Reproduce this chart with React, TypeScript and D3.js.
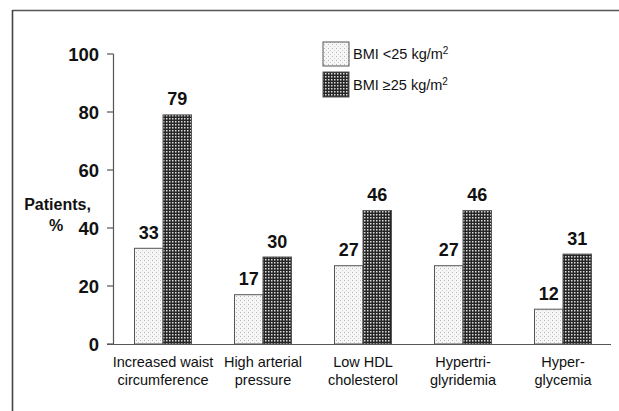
import React from "react";
import * as d3 from "d3";

const categories: string[][] = [
  ["Increased waist", "circumference"],
  ["High arterial", "pressure"],
  ["Low HDL", "cholesterol"],
  ["Hypertri-", "glyridemia"],
  ["Hyper-", "glycemia"],
];
const bmiUnder25: number[] = [33, 17, 27, 27, 12];
const bmiOver25: number[] = [79, 30, 46, 46, 31];
const yTicks: number[] = [0, 20, 40, 60, 80, 100];

const W = 619;
const H = 411;
const FONT = "Arial, 'Liberation Sans', Helvetica, sans-serif";

export default function App() {
  const x = d3
    .scaleBand<number>()
    .domain(categories.map((_, i) => i))
    .range([113, 613])
    .paddingInner(0)
    .paddingOuter(0);
  const y = d3.scaleLinear().domain([0, 100]).range([344, 54]);
  const barW = 28.5;

  return (
    <svg
      width={W}
      height={H}
      style={{ position: "absolute", left: 0, top: 0, background: "#fff" }}
      fontFamily={FONT}
    >
      <defs>
        <pattern id="light" width="4" height="4" patternUnits="userSpaceOnUse">
          <rect width="4" height="4" fill="#f6f6f6" />
          <rect x="0" y="0" width="1" height="1" fill="#b8b8b8" />
          <rect x="2" y="2" width="1" height="1" fill="#d0d0d0" />
        </pattern>
        <pattern id="dark" width="3" height="3" patternUnits="userSpaceOnUse">
          <rect width="3" height="3" fill="#262626" />
          <rect x="1" y="1" width="1.5" height="1.5" fill="#dddddd" />
        </pattern>
      </defs>

      {/* frame */}
      <line x1={12.5} y1={10.5} x2={W} y2={10.5} stroke="#555" strokeWidth={1.6} />
      <line x1={12.5} y1={10} x2={12.5} y2={H} stroke="#444" strokeWidth={1.6} />

      {/* bars */}
      {categories.map((_, i) => {
        const cx = (x(i) as number) + x.bandwidth() / 2;
        const v1 = bmiUnder25[i];
        const v2 = bmiOver25[i];
        return (
          <g key={i}>
            <rect
              x={cx - barW}
              y={y(v1)}
              width={barW}
              height={y(0) - y(v1)}
              fill="url(#light)"
              stroke="#555"
              strokeWidth={1}
            />
            <rect
              x={cx}
              y={y(v2)}
              width={barW}
              height={y(0) - y(v2)}
              fill="url(#dark)"
              stroke="#555"
              strokeWidth={1}
            />
            <text
              x={cx - barW / 2}
              y={y(v1) - 9.5}
              textAnchor="middle"
              fontWeight="bold"
              fontSize={18}
              fill="#111"
            >
              {v1}
            </text>
            <text
              x={cx + barW / 2}
              y={y(v2) - 9.5}
              textAnchor="middle"
              fontWeight="bold"
              fontSize={18}
              fill="#111"
            >
              {v2}
            </text>
            {categories[i].map((line, j) => (
              <text
                key={j}
                x={cx}
                y={367 + j * 18}
                textAnchor="middle"
                fontSize={14.5}
                fill="#111"
              >
                {line}
              </text>
            ))}
          </g>
        );
      })}

      {/* y axis */}
      <line x1={113.5} y1={y(100)} x2={113.5} y2={y(0)} stroke="#555" strokeWidth={1.2} />
      {yTicks.map((t) => (
        <g key={t}>
          <line x1={107} y1={y(t)} x2={113.5} y2={y(t)} stroke="#555" strokeWidth={1.2} />
          <text
            x={99}
            y={y(t) + 6.5}
            textAnchor="end"
            fontWeight="bold"
            fontSize={18.5}
            fill="#111"
          >
            {t}
          </text>
        </g>
      ))}
      {/* x axis */}
      <line x1={107} y1={y(0) + 0.5} x2={611} y2={y(0) + 0.5} stroke="#555" strokeWidth={1.2} />

      {/* y axis title */}
      <text x={57.5} y={210} textAnchor="middle" fontWeight="bold" fontSize={16} fill="#111">
        Patients,
      </text>
      <text x={56} y={231} textAnchor="middle" fontWeight="bold" fontSize={16} fill="#111">
        %
      </text>

      {/* legend */}
      <rect x={323} y={42} width={26} height={24} fill="url(#light)" stroke="#555" strokeWidth={1} />
      <rect x={323} y={72} width={26} height={25} fill="url(#dark)" stroke="#555" strokeWidth={1} />
      <text x={353} y={59} fontSize={14.5} fill="#111">
        BMI &lt;25 kg/m<tspan dy={-5} fontSize={10}>2</tspan>
      </text>
      <text x={353} y={90} fontSize={14.5} fill="#111">
        BMI ≥25 kg/m<tspan dy={-5} fontSize={10}>2</tspan>
      </text>
    </svg>
  );
}
